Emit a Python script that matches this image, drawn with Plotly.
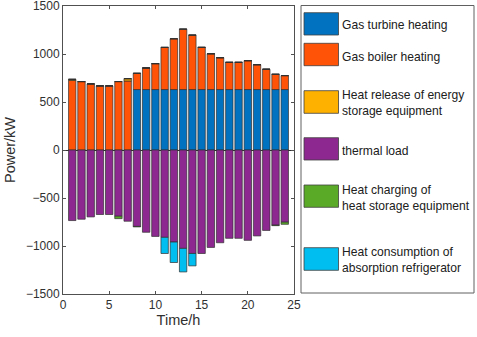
import plotly.graph_objects as go

hours = list(range(1, 25))
gas_turbine = [0, 0, 0, 0, 0, 0, 0] + [630] * 17
gas_boiler = [724, 713, 689, 668, 668, 713, 719,
              169, 225, 270, 439, 529, 629, 567, 439, 373, 332, 283, 283, 301, 259, 211, 159, 145]
storage_release = [12, 0, 0, 0, 0, 0, 24] + [0] * 17
thermal_load = [735, 721, 697, 672, 672, 690, 742, 796, 857, 900, 910, 959,
                1025, 1078, 1078, 1015, 966, 920, 920, 941, 895, 838, 783, 752]
storage_charge = [0, 0, 0, 0, 0, 25, 0, 5, 0, 0, 0, 0,
                  0, 0, 0, 0, 0, 0, 0, 0, 0, 0, 5, 22]
absorption = [0] * 10 + [168, 213, 245, 129] + [0] * 10

names = ["Gas turbine heating", "Gas boiler heating",
         "Heat release of energy<br>storage equipment", "thermal load",
         "Heat charging of<br>heat storage equipment",
         "Heat consumption of<br>absorption refrigerator"]
colors = ["#0072C0", "#FF5308", "#FFB100", "#8D2890", "#5BAA27", "#00BEF0"]

series = [gas_turbine, gas_boiler, storage_release,
          [-v for v in thermal_load], [-v for v in storage_charge], [-v for v in absorption]]

W, H = 477, 337
L, R, T, B = 63, 183, 6, 43
pw, ph = W - L - R, H - T - B

def px(x):
    return (x - L) / pw

def py(y):
    return 1 - (y - T) / ph

fig = go.Figure()
for name, col, vals in zip(names, colors, series):
    fig.add_trace(go.Bar(x=hours, y=vals, name=name.replace("<br>", " "),
                         marker=dict(color=col, line=dict(color="#303030", width=0.7)),
                         width=0.8, showlegend=False))

axis_col = "#505050"
font = "Liberation Sans, Arial, sans-serif"

shapes = [dict(type="rect", xref="paper", yref="paper",
               x0=px(301), x1=px(474), y0=py(5.5), y1=py(293),
               line=dict(color="#606060", width=1), fillcolor="white")]
annotations = []
sw = [(12.7, 35), (43.3, 65.7), (90.7, 113.3), (137.7, 160), (185, 207.3), (247.7, 270.3)]
txt_y = [25, 56.7, 103.3, 150.7, 197.7, 260]
for (y0, y1), ty, name, col in zip(sw, txt_y, names, colors):
    shapes.append(dict(type="rect", xref="paper", yref="paper",
                       x0=px(304), x1=px(338.5), y0=py(y0), y1=py(y1),
                       line=dict(color="#404040", width=0.8), fillcolor=col))
    annotations.append(dict(xref="paper", yref="paper", x=px(339.5), y=py(ty),
                            text=name, showarrow=False, xanchor="left", yanchor="middle",
                            align="left", font=dict(family=font, size=12.1, color="#202020")))

fig.update_layout(
    width=W, height=H,
    margin=dict(l=L, r=R, t=T, b=B, autoexpand=False),
    paper_bgcolor="white", plot_bgcolor="white",
    barmode="relative", bargap=0.2,
    font=dict(family=font, size=12, color="#303030"),
    shapes=shapes, annotations=annotations,
    xaxis=dict(range=[0, 25], tickvals=[0, 5, 10, 15, 20, 25], ticks="inside", ticklen=3,
               tickcolor=axis_col, showline=True, linecolor=axis_col, linewidth=1,
               mirror="ticks", showgrid=False, zeroline=False, automargin=False,
               ticklabeloverflow="allow",
               tickfont=dict(size=12, color="#303030"),
               title=dict(text="Time/h", font=dict(size=14.5, color="#303030"), standoff=2)),
    yaxis=dict(range=[-1500, 1500], tickvals=[-1500, -1000, -500, 0, 500, 1000, 1500],
               ticks="inside", ticklen=3, tickcolor=axis_col, showline=True,
               linecolor=axis_col, linewidth=1, mirror="ticks", showgrid=False,
               zeroline=True, zerolinecolor="#303030", zerolinewidth=1, automargin=False,
               ticklabeloverflow="allow",
               tickfont=dict(size=12, color="#303030"),
               title=dict(text="Power/kW", font=dict(size=14.5, color="#303030"), standoff=6)),
)

fig.write_html("out.html", config={"displayModeBar": False},
               post_script="document.body.style.margin='0';document.body.style.padding='0';")
